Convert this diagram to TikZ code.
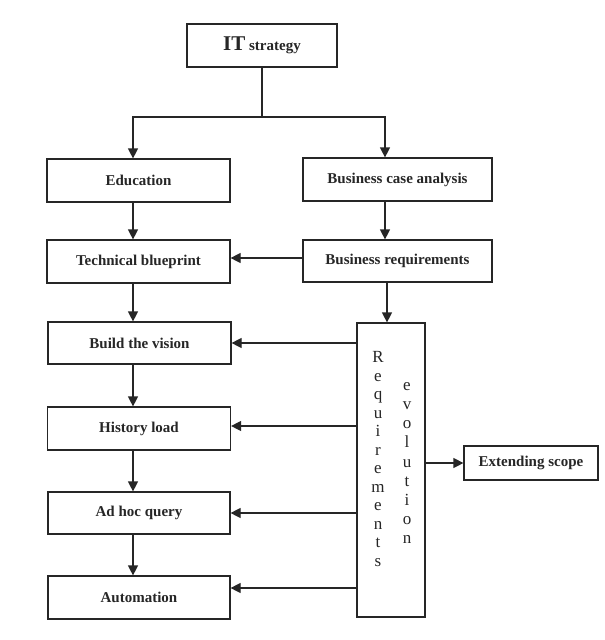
\documentclass[tikz,border=0pt]{standalone}
\usepackage{fontspec}
\setmainfont{Liberation Serif}
\usetikzlibrary{arrows.meta}
\tikzset{
  box/.style={draw=black!85, line width=1.2pt, fill=white, inner sep=0pt,
    font=\fontsize{15}{18}\selectfont\bfseries, text=black!85},
  arr/.style={draw=black!85, line width=1.2pt, -{Triangle[length=10pt,width=10pt]}},
  ln/.style={draw=black!85, line width=1.2pt},
  col/.style={font=\fontsize{17}{18.5}\selectfont, text=black!85, align=center, inner sep=0pt}
}
\begin{document}
\begin{tikzpicture}[x=1pt,y=-1pt]
\fill[white] (0,0) rectangle (605,640);
\useasboundingbox (0,0) rectangle (605,640);

\node[box, minimum width=150pt, minimum height=43pt] (it) at (262,45.5)
  {{\fontsize{21}{22}\selectfont IT} strategy};
\node[box, minimum width=183pt, minimum height=43pt] (edu) at (138.5,180.5) {Education};
\node[box, minimum width=189pt, minimum height=43pt] (bca) at (397.5,179.5) {Business case analysis};
\node[box, minimum width=183pt, minimum height=43pt] (tb) at (138.5,261.5) {Technical blueprint};
\node[box, minimum width=189pt, minimum height=42pt] (br) at (397.5,261) {Business requirements};
\node[box, minimum width=183pt, minimum height=42pt] (btv) at (139.5,343) {Build the vision};
\node[box, minimum width=183pt, minimum height=43pt] (hl) at (139,428.5) {History load};
\node[box, minimum width=182pt, minimum height=42pt] (ahq) at (139,513) {Ad hoc query};
\node[box, minimum width=182pt, minimum height=43pt] (aut) at (139,597.5) {Automation};
\node[box, minimum width=68pt, minimum height=294pt] (req) at (391,470) {};
\node[box, minimum width=134pt, minimum height=34pt] (ext) at (531,463) {Extending scope};

\node[col] (reqtxt) at (378,459) {R\\e\\q\\u\\i\\r\\e\\m\\e\\n\\t\\s};
\node[col, font=\fontsize{17}{19.1}\selectfont] (evotxt) at (407,463) {e\\v\\o\\l\\u\\t\\i\\o\\n};

\coordinate (L) at (133,0);
\coordinate (R) at (385,0);
\coordinate (R2) at (387,0);
\coordinate (split) at (262,117);
\coordinate (ya) at (0,588);
\coordinate (yb) at (0,258);

\draw[ln] (it.south) -- (split);
\draw[arr] (split) -| (L |- edu.north);
\draw[arr] (split) -| (R |- bca.north);
\draw[arr] (L |- edu.south) -- (L |- tb.north);
\draw[arr] (R |- bca.south) -- (R |- br.north);
\draw[arr] (br.west |- yb) -- (tb.east |- yb);
\draw[arr] (L |- tb.south) -- (L |- btv.north);
\draw[arr] (L |- btv.south) -- (L |- hl.north);
\draw[arr] (L |- hl.south) -- (L |- ahq.north);
\draw[arr] (L |- ahq.south) -- (L |- aut.north);
\draw[arr] (R2 |- br.south) -- (R2 |- req.north);
\draw[arr] (req.west |- btv) -- (btv.east);
\draw[arr] (req.west |- 0,426) -- (hl.east |- 0,426);
\draw[arr] (req.west |- ahq) -- (ahq.east);
\draw[arr] (req.west |- ya) -- (aut.east |- ya);
\draw[arr] (req.east |- ext) -- (ext.west);
\end{tikzpicture}
\end{document}
